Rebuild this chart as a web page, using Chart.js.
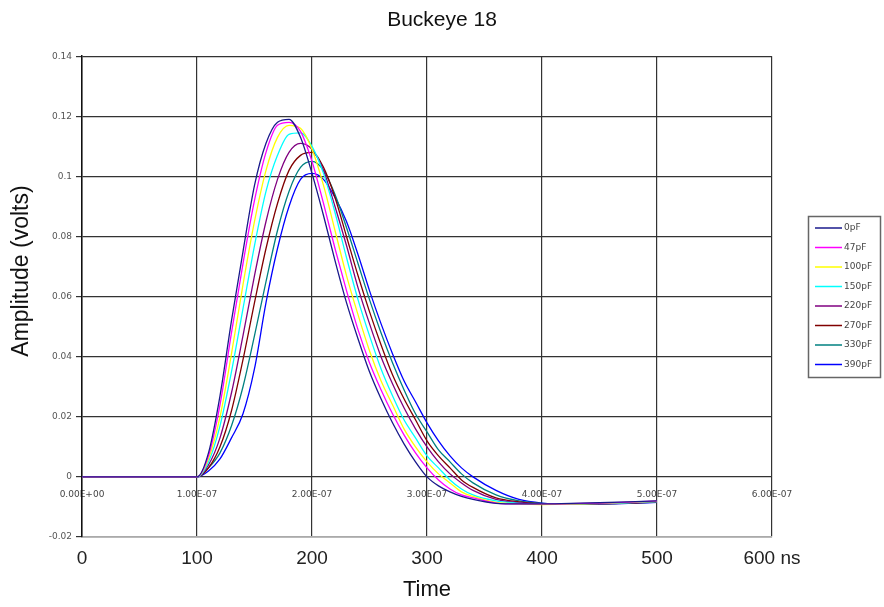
<!DOCTYPE html>
<html>
<head>
<meta charset="utf-8">
<title>Buckeye 18</title>
<script src="https://cdn.jsdelivr.net/npm/chart.js@4.4.0/dist/chart.umd.min.js"></script>
<style>
  body { margin: 0; background: #fff; }
  #wrap { width: 884px; height: 607px; }
</style>
</head>
<body>
<div id="wrap"><canvas id="myChart"></canvas></div>
<script>
// time in ns
var timesNs = [0, 100, 110, 120, 130, 140, 150, 160, 170, 180, 190, 200, 210, 220, 230, 240, 250,
  260, 270, 280, 290, 300, 310, 320, 330, 340, 360, 380, 400, 425, 450, 475, 500];

var seriesNames = ['0pF', '47pF', '100pF', '150pF', '220pF', '270pF', '330pF', '390pF'];
var seriesColors = ['#1a1a8c', '#ff00ff', '#ffff00', '#00ffff', '#800080', '#800000', '#008080', '#0000ff'];

// amplitude in volts
var pF0 = [0, 0, .008, .027, .052, .075, .097, .111, .118, .119, .113, .101, .087, .072, .058, .046, .035,
  .026, .018, .011, .005, 0, -.003, -.005, -.0065, -.0075, -.0088, -.009, -.009, -.0088, -.0086, -.0083, -.008];
var pF47 = [0, 0, .007, .024, .048, .071, .092, .108, .117, .118, .115, .105, .091, .076, .062, .049, .038,
  .029, .021, .014, .008, .003, -.001, -.004, -.006, -.007, -.0087, -.009, -.009, -.0089, -.0087, -.0084, -.008];
var pF100 = [0, 0, .006, .020, .041, .064, .085, .102, .113, .117, .116, .109, .097, .082, .067, .054, .042,
  .032, .024, .016, .010, .005, .001, -.002, -.005, -.0065, -.0085, -.009, -.0092, -.009, -.0088, -.0085, -.0081];
var pF150 = [0, 0, .005, .017, .035, .056, .077, .095, .107, .114, .1145, .110, .101, .088, .073, .059, .047,
  .036, .027, .019, .013, .007, .003, -.001, -.004, -.006, -.008, -.0088, -.009, -.009, -.0088, -.0086, -.0082];
var pF220 = [0, 0, .004, .013, .028, .047, .067, .085, .099, .108, .111, .109, .102, .090, .077, .063, .051,
  .040, .031, .023, .016, .010, .005, .001, -.002, -.0045, -.0075, -.0086, -.009, -.009, -.0089, -.0086, -.0083];
var pF270 = [0, 0, .003, .010, .022, .039, .058, .076, .091, .102, .107, .108, .103, .093, .080, .067, .055,
  .044, .034, .026, .019, .012, .007, .003, -.001, -.0035, -.007, -.0083, -.0089, -.009, -.0089, -.0087, -.0083];
var pF330 = [0, 0, .003, .008, .017, .030, .047, .065, .082, .095, .103, .105, .102, .094, .083, .071, .059,
  .048, .038, .029, .021, .015, .009, .005, .001, -.002, -.006, -.008, -.0088, -.009, -.009, -.0087, -.0084];
var pF390 = [0, 0, .002, .006, .013, .021, .036, .058, .076, .090, .099, .101, .099, .093, .085, .074, .062,
  .051, .041, .032, .025, .018, .012, .007, .003, 0, -.0045, -.0075, -.0087, -.009, -.009, -.0088, -.0085];

var xLabels = ['0', '100', '200', '300', '400', '500', '600 ns'];
var xInnerLabels = ['0.00E+00', '1.00E-07', '2.00E-07', '3.00E-07', '4.00E-07', '5.00E-07', '6.00E-07'];
var yLabels = ['-0.02', '0', '0.02', '0.04', '0.06', '0.08', '0.1', '0.12', '0.14'];

var allSeries = [pF0, pF47, pF100, pF150, pF220, pF270, pF330, pF390];
var FONT = "'Liberation Sans', Arial, sans-serif";
var SMALL = "'DejaVu Sans', sans-serif";

var datasets = allSeries.map(function (vals, i) {
  return {
    label: seriesNames[i],
    data: timesNs.map(function (t, j) { return { x: t, y: vals[j] }; }),
    borderColor: seriesColors[i],
    borderWidth: 1.3,
    pointRadius: 0,
    fill: false,
    cubicInterpolationMode: 'monotone'
  };
});

// legend with a frame, to the right of the plot
var legendBox = {
  id: 'legendBox',
  afterDraw: function (chart) {
    var ctx = chart.ctx;
    var left = chart.chartArea.right + 36;
    var top = 216;
    ctx.save();
    ctx.fillStyle = '#fff';
    ctx.fillRect(left, top, 73, 162);
    ctx.strokeStyle = '#666';
    ctx.lineWidth = 1.5;
    ctx.strokeRect(left + 0.5, top + 0.5, 72, 161);
    ctx.font = '9px ' + SMALL;
    ctx.textBaseline = 'middle';
    chart.data.datasets.forEach(function (ds, i) {
      var y = top + 12 + i * 19.5;
      ctx.strokeStyle = ds.borderColor;
      ctx.lineWidth = 1.5;
      ctx.beginPath();
      ctx.moveTo(left + 7, y);
      ctx.lineTo(left + 34, y);
      ctx.stroke();
      ctx.fillStyle = '#444';
      ctx.fillText(ds.label, left + 36, y);
    });
    ctx.restore();
  }
};

var ctx = document.getElementById('myChart').getContext('2d');
var myChart = new Chart(ctx, {
  type: 'line',
  data: { datasets: datasets },
  plugins: [legendBox],
  options: {
    responsive: true,
    maintainAspectRatio: false,
    animation: false,
    layout: { padding: 0 },
    plugins: {
      legend: { display: false },
      tooltip: { enabled: false },
      title: {
        display: true,
        text: 'Buckeye 18',
        color: '#111',
        font: { family: FONT, size: 21, weight: 'normal' },
        padding: { top: 8, bottom: 23 }
      }
    },
    scales: {
      x: {
        type: 'linear',
        min: 0,
        max: 600,
        ticks: {
          stepSize: 100,
          autoSkip: false,
          maxRotation: 0,
          padding: 10,
          color: '#222',
          font: { family: FONT, size: 19 },
          callback: function (v, i) { return xLabels[i]; }
        },
        grid: { color: '#333', lineWidth: 1.2, drawTicks: false },
        border: { color: '#aaa', width: 1.5 },
        title: {
          display: true,
          text: 'Time',
          color: '#111',
          font: { family: FONT, size: 22 },
          padding: { top: 0, bottom: 4 }
        },
        afterFit: function (s) { s.height = 70; }
      },
      x2: {
        type: 'linear',
        axis: 'x',
        position: { y: 0 },
        min: 0,
        max: 600,
        ticks: {
          stepSize: 100,
          autoSkip: false,
          maxRotation: 0,
          padding: 12,
          color: '#444',
          font: { family: SMALL, size: 9 },
          callback: function (v, i) { return xInnerLabels[i]; }
        },
        grid: { display: false, drawTicks: false },
        border: { display: false }
      },
      y: {
        type: 'linear',
        min: -0.02,
        max: 0.14,
        ticks: {
          stepSize: 0.02,
          padding: 4,
          color: '#555',
          font: { family: SMALL, size: 9 },
          callback: function (v, i) { return yLabels[i]; }
        },
        grid: { color: '#333', lineWidth: 1.2, tickLength: 6 },
        border: { color: '#111', width: 1.5 },
        title: {
          display: true,
          text: '\u00a0\u00a0\u00a0\u00a0\u00a0\u00a0\u00a0\u00a0Amplitude (volts)',
          color: '#111',
          font: { family: FONT, size: 23 },
          padding: { top: 8, bottom: 0 }
        },
        afterFit: function (s) { s.width = 82; }
      },
      // empty right-hand axis that keeps room for the framed legend
      yRight: {
        type: 'linear',
        position: 'right',
        ticks: { display: false },
        grid: { display: false, drawTicks: false },
        border: { display: false },
        afterFit: function (s) { s.width = 112; }
      }
    }
  }
});
</script>
</body>
</html>
